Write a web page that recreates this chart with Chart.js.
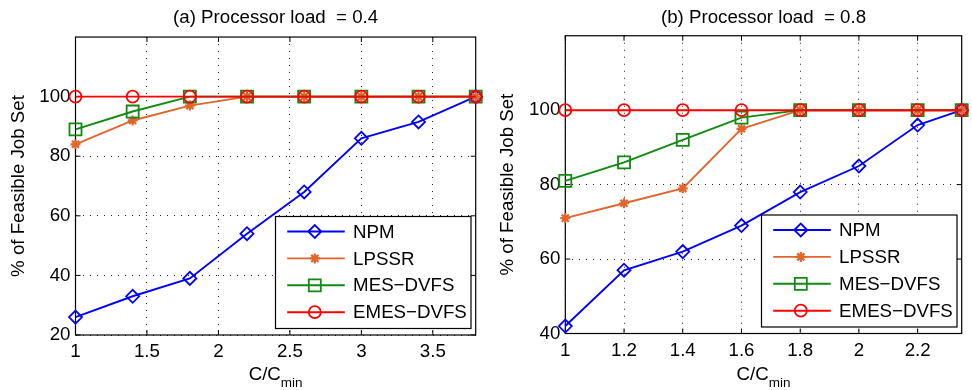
<!DOCTYPE html>
<html>
<head>
<meta charset="utf-8">
<script src="https://cdn.jsdelivr.net/npm/chart.js@4.4.1/dist/chart.umd.min.js"></script>
<style>
  html, body { margin: 0; padding: 0; background: #fff; }
  #wrap { position: relative; width: 972px; height: 390px; overflow: hidden; }
  .panel { position: absolute; top: 0; width: 486px; height: 390px; }
</style>
</head>
<body>
<div id="wrap">
  <div class="panel" style="left:0"><canvas id="chart-a" width="486" height="390"></canvas></div>
  <div class="panel" style="left:486px"><canvas id="chart-b" width="486" height="390"></canvas></div>
</div>
<script>
// --- data ---
const seriesNames = ['NPM', 'LPSSR', 'MES\u2212DVFS', 'EMES\u2212DVFS'];
const yTitle = '% of Feasible Job Set';
const xTitle = ['C/C', 'min'];

// (a) load = 0.4
const titleA = '(a) Processor load  = 0.4';
const xA = [1, 1.4, 1.8, 2.2, 2.6, 3.0, 3.4, 3.8];
const npmA = [26, 33, 39, 54, 68, 86, 91.5, 100];
const lpssrA = [84, 92, 97, 100, 100, 100, 100, 100];
const mesA = [89, 95, 100, 100, 100, 100, 100, 100];
const emesA = [100, 100, 100, 100, 100, 100, 100, 100];
const xTicksA = [1, 1.5, 2, 2.5, 3, 3.5];
const yTicksA = [20, 40, 60, 80, 100];
const yRangeA = [20, 120];

// (b) load = 0.8
const titleB = '(b) Processor load  = 0.8';
const xB = [1, 1.2, 1.4, 1.6, 1.8, 2.0, 2.2, 2.35];
const npmB = [42, 57, 62, 69, 78, 85, 96, 100];
const lpssrB = [71, 75, 79, 95, 100, 100, 100, 100];
const mesB = [81, 86, 92, 98, 100, 100, 100, 100];
const emesB = [100, 100, 100, 100, 100, 100, 100, 100];
const xTicksB = [1, 1.2, 1.4, 1.6, 1.8, 2, 2.2];
const yTicksB = [40, 60, 80, 100];
const yRangeB = [40, 120];

const FONT = '"Liberation Sans", Arial, Helvetica, sans-serif';
const FS = 18.7;
Chart.defaults.font.family = FONT;
Chart.defaults.font.size = FS;
Chart.defaults.color = '#000';

const styles = [
  { color: '#0000ff', pointStyle: 'rectRot', r: 6.5, pw: 1.8, order: 3 },
  { color: '#e2652c', pointStyle: 'star', r: 5, pw: 2.2, order: 2 },
  { color: '#108a10', pointStyle: 'rect', r: 8.5, pw: 1.8, order: 1 },
  { color: '#ff0000', pointStyle: 'circle', r: 6, pw: 1.8, order: 0 },
];

// box, inward ticks, subscript x label and legend (matlab look)
const matlabFrame = {
  id: 'matlabFrame',
  beforeDatasetsDraw(chart) {
    const { ctx, chartArea: a, scales: { x, y } } = chart;
    ctx.save();
    ctx.strokeStyle = '#000';
    ctx.lineWidth = 1;
    ctx.beginPath();
    x.ticks.forEach(t => {
      const px = x.getPixelForValue(t.value);
      ctx.moveTo(px, a.bottom); ctx.lineTo(px, a.bottom - 5);
      ctx.moveTo(px, a.top); ctx.lineTo(px, a.top + 5);
    });
    y.ticks.forEach(t => {
      const py = y.getPixelForValue(t.value);
      ctx.moveTo(a.left, py); ctx.lineTo(a.left + 5, py);
      ctx.moveTo(a.right, py); ctx.lineTo(a.right - 5, py);
    });
    ctx.stroke();
    ctx.lineWidth = 1.2;
    ctx.strokeRect(a.left, a.top, a.right - a.left, a.bottom - a.top);
    ctx.restore();
  },
  afterDraw(chart) {
    const { ctx, chartArea: a } = chart;
    ctx.save();
    ctx.fillStyle = '#000';
    ctx.textBaseline = 'alphabetic';
    ctx.textAlign = 'left';

    // x label with subscript
    ctx.font = FS + 'px ' + FONT;
    const wMain = ctx.measureText(xTitle[0]).width;
    ctx.font = '13.5px ' + FONT;
    const wSub = ctx.measureText(xTitle[1]).width;
    const sx = (a.left + a.right) / 2 - (wMain + wSub) / 2;
    ctx.font = FS + 'px ' + FONT;
    ctx.fillText(xTitle[0], sx, 380);
    ctx.font = '13.5px ' + FONT;
    ctx.fillText(xTitle[1], sx + wMain, 386.5);

    // legend
    const w = 195.5, h = 112;
    const x0 = a.right - 4.7 - w, y0 = a.bottom - 6.5 - h;
    ctx.fillStyle = '#fff';
    ctx.fillRect(x0, y0, w, h);
    ctx.strokeStyle = '#000';
    ctx.lineWidth = 1.2;
    ctx.strokeRect(x0, y0, w, h);
    ctx.font = FS + 'px ' + FONT;
    ctx.textBaseline = 'middle';
    chart.data.datasets.forEach((ds, i) => {
      const ry = y0 + 15 + i * 26.9;
      ctx.strokeStyle = ds.borderColor;
      ctx.lineWidth = ds.borderWidth;
      ctx.beginPath();
      ctx.moveTo(x0 + 11.7, ry);
      ctx.lineTo(x0 + 69.3, ry);
      ctx.stroke();
      ctx.fillStyle = 'rgba(0,0,0,0)';
      ctx.lineWidth = ds.pointBorderWidth;
      Chart.helpers.drawPoint(ctx, {
        pointStyle: ds.pointStyle, radius: ds.pointRadius, rotation: 0, borderWidth: ds.pointBorderWidth
      }, x0 + 39.3, ry);
      ctx.fillStyle = '#000';
      ctx.fillText(ds.label, x0 + 77.6, ry + 1);
    });
    ctx.restore();
  }
};

function makeChart(id, opts) {
  const values = opts.series;
  const datasets = values.map((vals, i) => {
    const s = styles[i];
    return {
      label: seriesNames[i],
      data: opts.x.map((xv, j) => ({ x: xv, y: vals[j] })),
      borderColor: s.color,
      backgroundColor: 'rgba(0,0,0,0)',
      borderWidth: 1.9,
      pointStyle: s.pointStyle,
      pointRadius: s.r,
      pointBorderWidth: s.pw,
      pointBorderColor: s.color,
      pointBackgroundColor: 'rgba(0,0,0,0)',
      tension: 0,
      clip: false,
      order: s.order,
    };
  });

  return new Chart(document.getElementById(id), {
    type: 'line',
    data: { datasets },
    plugins: [matlabFrame],
    options: {
      responsive: false,
      animation: false,
      events: [],
      devicePixelRatio: 1,
      layout: { padding: { left: 0, right: opts.padRight, top: 0, bottom: 0 } },
      plugins: {
        legend: { display: false },
        tooltip: { enabled: false },
        title: {
          display: true,
          text: opts.title,
          fullSize: false,
          color: '#000',
          font: { size: FS, weight: 'normal' },
          padding: { top: 6.3, bottom: opts.titleBottom },
        },
      },
      scales: {
        x: {
          type: 'linear',
          min: opts.x[0],
          max: opts.x[opts.x.length - 1],
          afterBuildTicks: sc => { sc.ticks = opts.xTicks.map(v => ({ value: v })); },
          afterFit: sc => { sc.height = opts.xHeight; },
          ticks: { callback: v => String(v), padding: 6, maxRotation: 0, autoSkip: false, color: '#000' },
          grid: { color: '#222', lineWidth: 1, drawTicks: false },
          border: { display: false, dash: [1, 6] },
        },
        y: {
          min: opts.yRange[0],
          max: opts.yRange[1],
          afterBuildTicks: sc => { sc.ticks = opts.yTicks.map(v => ({ value: v })); },
          afterFit: sc => { sc.width = opts.yWidth; },
          ticks: { callback: v => String(v), padding: 5, color: '#000' },
          grid: { color: '#222', lineWidth: 1, drawTicks: false },
          border: { display: false, dash: [1, 6] },
          title: { display: true, text: yTitle, color: '#000', font: { size: FS }, padding: { top: opts.yTitlePad, bottom: 0 } },
        },
      },
    },
  });
}

makeChart('chart-a', {
  title: titleA, x: xA, series: [npmA, lpssrA, mesA, emesA],
  xTicks: xTicksA, yTicks: yTicksA, yRange: yRangeA,
  padRight: 10, yWidth: 75.5, xHeight: 55, titleBottom: 8.3, yTitlePad: 7.5,
});

makeChart('chart-b', {
  title: titleB, x: xB, series: [npmB, lpssrB, mesB, emesB],
  xTicks: xTicksB, yTicks: yTicksB, yRange: yRangeB,
  padRight: 3.5, yWidth: 79.3, xHeight: 56.5, titleBottom: 7, yTitlePad: 11,
});
</script>
</body>
</html>
